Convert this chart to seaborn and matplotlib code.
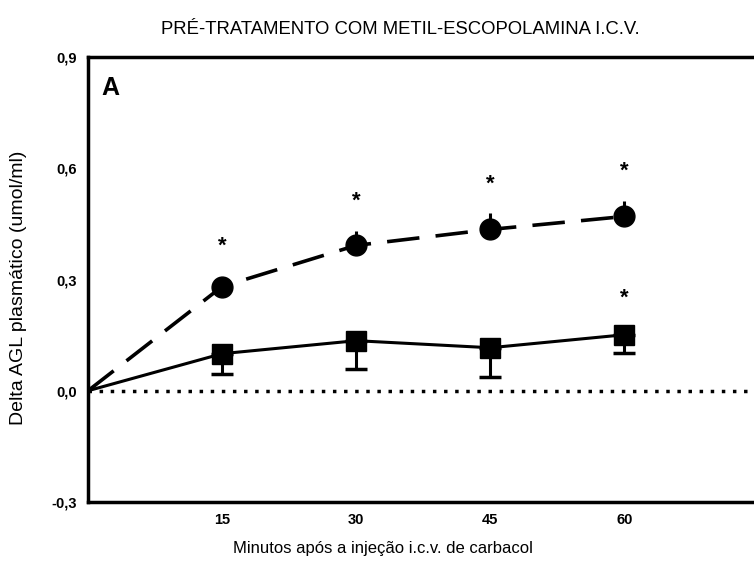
import matplotlib
matplotlib.use("Agg")
import matplotlib.pyplot as plt
import seaborn as sns
import pandas as pd
from matplotlib.ticker import FixedLocator, FuncFormatter

minutes = [0, 15, 30, 45, 60]
circ_vals = [0.0, 0.281, 0.392, 0.435, 0.470]
circ_err_up = [0.0, 0.0, 0.038, 0.045, 0.043]
sq_vals = [0.0, 0.100, 0.135, 0.116, 0.151]
sq_err_down = [0.0, 0.054, 0.076, 0.078, 0.048]
circ_star_x = [15, 30, 45, 60]
circ_star_y = [0.39, 0.51, 0.557, 0.592]
sq_star_x = [60]
sq_star_y = [0.25]
xticks = [15, 30, 45, 60]
yticks = [-0.3, 0.0, 0.3, 0.6, 0.9]

sns.set_theme(style="white")
plt.rcParams['font.family'] = ['Liberation Sans', 'DejaVu Sans']
plt.rcParams.update({"text.color": "black", "axes.labelcolor": "black",
                     "xtick.color": "black", "ytick.color": "black"})

fig = plt.figure(figsize=(7.54, 5.64), dpi=100)
ax = fig.add_axes([88/754, 1-502/564, 1-88/754, (502-57)/564])

df_c = pd.DataFrame({"x": minutes, "y": circ_vals})
df_s = pd.DataFrame({"x": minutes, "y": sq_vals})

sns.lineplot(data=df_c, x="x", y="y", ax=ax, color="black", lw=2.6,
             dashes=False, zorder=3)
ax.lines[-1].set_dashes((9, 4.5))
sns.lineplot(data=df_s, x="x", y="y", ax=ax, color="black", lw=2.2, zorder=3)

ax.errorbar(minutes[1:], circ_vals[1:], yerr=[[0]*4, circ_err_up[1:]],
            fmt="o", color="black", ms=15, capsize=0, elinewidth=2.2, zorder=4)
ax.errorbar(minutes[1:], sq_vals[1:], yerr=[sq_err_down[1:], [0]*4],
            fmt="s", color="black", ms=14, capsize=8, capthick=2.5,
            elinewidth=2.2, zorder=4)

ax.axhline(0, color="black", lw=2.5, ls=(0, (1, 2.2)), zorder=2)

for x, y in zip(circ_star_x, circ_star_y):
    ax.text(x, y, "*", ha="center", va="center", fontsize=16, fontweight="bold")
for x, y in zip(sq_star_x, sq_star_y):
    ax.text(x, y, "*", ha="center", va="center", fontsize=16, fontweight="bold")

ax.set_xlim(0, 74.5)
ax.set_ylim(-0.3, 0.9)
ax.xaxis.set_major_locator(FixedLocator(xticks))
ax.yaxis.set_major_locator(FixedLocator(yticks))
ax.yaxis.set_major_formatter(FuncFormatter(lambda v, p: f"{v:.1f}".replace(".", ",")))
ax.tick_params(length=0, labelsize=10.5, labelcolor="black")
ax.tick_params(axis="x", pad=8)
ax.tick_params(axis="y", pad=8)
for lab in ax.get_xticklabels() + ax.get_yticklabels():
    lab.set_fontweight("bold")

for s in ["left", "bottom", "top"]:
    ax.spines[s].set_color("black")
    ax.spines[s].set_linewidth(2.5)
ax.spines["right"].set_visible(False)

ax.set_xlabel("Minutos após a injeção i.c.v. de carbacol", fontsize=12, color="black")
ax.xaxis.set_label_coords((383-88)/(754-88), -(541-502)/(502-57))
ax.set_ylabel("Delta AGL plasmático (umol/ml)", fontsize=14, color="black")
ax.yaxis.set_label_coords(-(88-27)/(754-88), (502-288)/(502-57))
ax.text(0.02, 0.93, "A", transform=ax.transAxes, fontsize=18, fontweight="bold",
        ha="left", va="center", color="black")

fig.text(400/754, 1-30/564, "PRÉ-TRATAMENTO COM METIL-ESCOPOLAMINA I.C.V.",
         ha="center", va="center", fontsize=13.3, color="black")

fig.savefig("out.png", dpi=100)
